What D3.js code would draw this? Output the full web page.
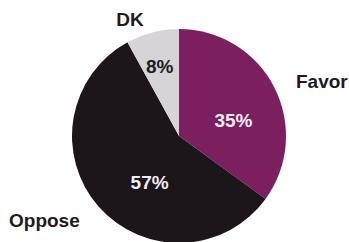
<!DOCTYPE html>
<html>
<head>
<meta charset="utf-8">
<script src="https://cdn.jsdelivr.net/npm/d3@7"></script>
<style>
  body { margin: 0; background: #fff; }
  text { font-family: "Liberation Sans", Arial, sans-serif; font-weight: bold; }
</style>
</head>
<body>
<div class="pie-container"></div>
<script>
var categories = ["Favor", "Oppose", "DK"];
var values = [35, 57, 8];
var pctLabels = ["35%", "57%", "8%"];

var width = 349, height = 242;
var cx = 179, cy = 136, radius = 107;

var colors = d3.scaleOrdinal().domain(categories).range(["#7b1f5e", "#1c1519", "#d6d4d6"]);
var pctColor = d3.scaleOrdinal().domain(categories).range(["#f2eef2", "#f2eef2", "#1e1a1e"]);

// label placement tweaks (radius factor, angle nudge in degrees)
var inner = { Favor: [0.53, 11], Oppose: [0.51, -16], DK: [0.68, -1] };
// outside category label offsets from centre: [dx, dy baseline, anchor]
var outer = { Favor: [117, -48, "start"], Oppose: [-170, 91, "start"], DK: [-49, -110, "middle"] };

var svg = d3.select(".pie-container").append("svg").attr("width", width).attr("height", height);
var g = svg.append("g").attr("transform", "translate(" + cx + "," + cy + ")");

var pie = d3.pie().sort(null).value(function(d) { return d.value; });
var data = categories.map(function(c, i) { return { name: c, value: values[i], pct: pctLabels[i] }; });
var arcs = pie(data);

var arc = d3.arc().innerRadius(0).outerRadius(radius);

g.selectAll("path")
  .data(arcs)
  .enter()
  .append("path")
  .attr("d", arc)
  .style("fill", function(d) { return colors(d.data.name); });

g.selectAll("text.pct")
  .data(arcs)
  .enter()
  .append("text")
  .attr("class", "pct")
  .attr("text-anchor", "middle")
  .attr("dy", ".35em")
  .attr("x", function(d) {
    var t = inner[d.data.name];
    var a = (d.startAngle + d.endAngle) / 2 + t[1] * Math.PI / 180;
    return Math.sin(a) * radius * t[0];
  })
  .attr("y", function(d) {
    var t = inner[d.data.name];
    var a = (d.startAngle + d.endAngle) / 2 + t[1] * Math.PI / 180;
    return -Math.cos(a) * radius * t[0];
  })
  .style("font-size", "19px")
  .style("fill", function(d) { return pctColor(d.data.name); })
  .text(function(d) { return d.data.pct; });

g.selectAll("text.cat")
  .data(arcs)
  .enter()
  .append("text")
  .attr("class", "cat")
  .attr("x", function(d) { return outer[d.data.name][0]; })
  .attr("y", function(d) { return outer[d.data.name][1]; })
  .attr("text-anchor", function(d) { return outer[d.data.name][2]; })
  .style("font-size", "19px")
  .style("fill", "#1e1a1e")
  .text(function(d) { return d.data.name; });
</script>
</body>
</html>
